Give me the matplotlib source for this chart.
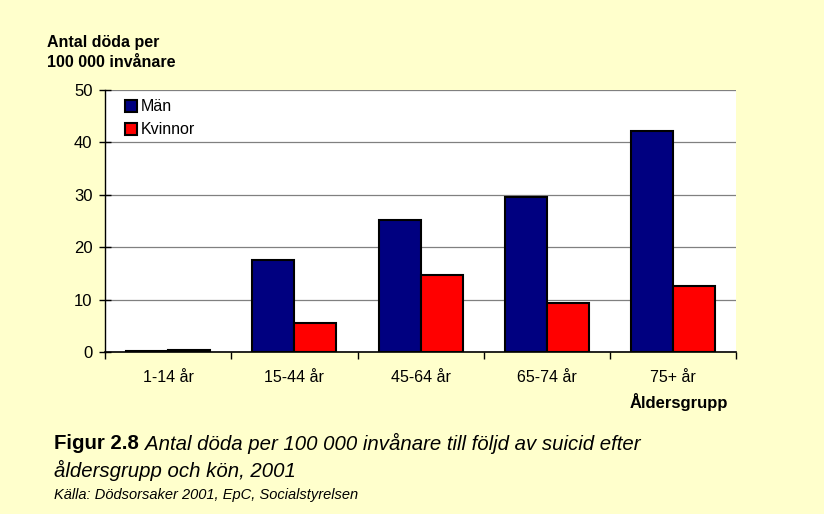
import numpy as np
import matplotlib.pyplot as plt
from matplotlib.patches import Rectangle

plt.rcParams['font.family'] = ['Liberation Sans', 'DejaVu Sans']

groups = ['1-14 år', '15-44 år', '45-64 år', '65-74 år', '75+ år']
man = [0.3, 17.6, 25.2, 29.5, 42.2]
kvinnor = [0.4, 5.6, 14.7, 9.4, 12.7]
yticks = [0, 10, 20, 30, 40, 50]

bg = '#FFFFCC'
fig = plt.figure(figsize=(8.24, 5.14), dpi=100, facecolor=bg)
ax = fig.add_axes([0.1275, 0.315, 0.766, 0.51])
ax.set_facecolor('white')

x = np.arange(len(groups))
w = 0.333
ax.bar(x - w / 2, man, w, color='#000080', edgecolor='black', linewidth=1.5, label='Män', zorder=3)
ax.bar(x + w / 2, kvinnor, w, color='#FF0000', edgecolor='black', linewidth=1.5, label='Kvinnor', zorder=3)

ax.set_xlim(-0.5, len(groups) - 0.5)
ax.set_ylim(0, 50)
ax.set_yticks(yticks)
ax.yaxis.grid(True, color='#808080', linewidth=0.9, zorder=0)
ax.set_xticks(x)
ax.set_xticklabels(groups)
ax.set_xticks(np.arange(len(groups) + 1) - 0.5, minor=True)
ax.tick_params(axis='x', which='major', length=0, pad=13, labelsize=11.5)
ax.tick_params(axis='x', which='minor', length=5, width=1, direction='out')
ax.tick_params(axis='y', length=8, width=1, direction='inout', labelsize=12, pad=5)

for s in ['top', 'right']:
    ax.spines[s].set_visible(False)
ax.spines['left'].set_linewidth(1)
ax.spines['bottom'].set_linewidth(1.2)
ax.axhline(50, color='#404040', linewidth=1.3, zorder=1)

# white area behind the legend, hides the gridline at 40
ax.add_patch(Rectangle((0.01, 0.74), 0.156, 0.245, transform=ax.transAxes,
                       facecolor='white', edgecolor='none', zorder=1.5))

leg = ax.legend(loc='upper left', bbox_to_anchor=(0.022, 0.985), frameon=False,
                handlelength=0.75, handleheight=0.75, handletextpad=0.25, labelspacing=0.5,
                borderpad=0.35, fontsize=11.5, borderaxespad=0.0)
leg.set_zorder(4)

fig.text(0.057, 0.898, 'Antal döda per\n100 000 invånare', fontsize=11.5, fontweight='bold',
         va='center', ha='left', linespacing=1.45)
fig.text(0.884, 0.218, 'Åldersgrupp', fontsize=12, fontweight='bold', ha='right', va='center')

t = fig.text(0.066, 0.137, 'Figur 2.8', fontsize=14.7, fontweight='bold', va='center', ha='left')
fig.canvas.draw()
bb = t.get_window_extent()
fig.text((bb.x1 + 6) / fig.bbox.width, 0.137,
         'Antal döda per 100 000 invånare till följd av suicid efter',
         fontsize=14.7, fontstyle='italic', va='center', ha='left')
fig.text(0.066, 0.085, 'åldersgrupp och kön, 2001', fontsize=14.7, fontstyle='italic',
         va='center', ha='left')
fig.text(0.066, 0.037, 'Källa: Dödsorsaker 2001, EpC, Socialstyrelsen', fontsize=10.5,
         fontstyle='italic', va='center', ha='left')

fig.savefig('out.png', dpi=100, facecolor=bg)
